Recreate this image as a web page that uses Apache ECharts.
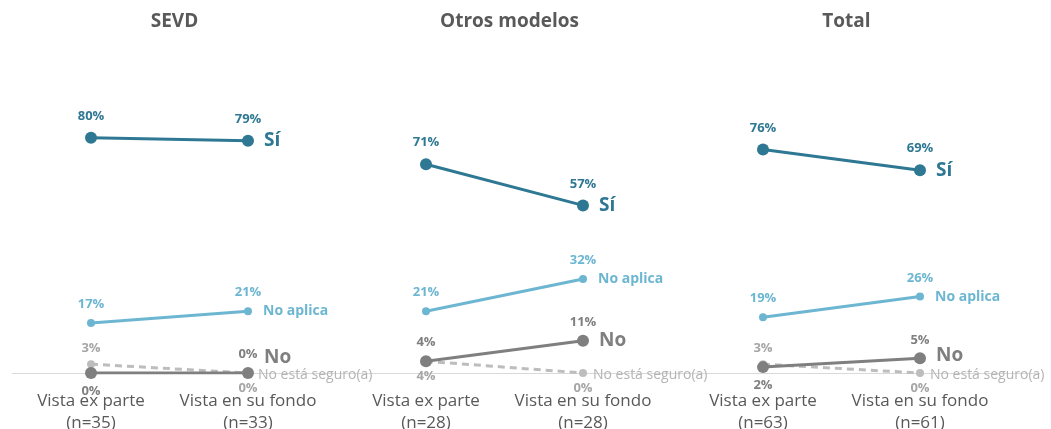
<!DOCTYPE html>
<html><head><meta charset="utf-8">
<script src="https://cdn.jsdelivr.net/npm/echarts@6/dist/echarts.min.js"></script>
<style>html,body{margin:0;padding:0;background:#fff}#c{width:1051px;height:429px}</style>
</head><body><div id="c"></div>
<script>
// ---- Data ----
const panelTitles = ['SEVD', 'Otros modelos', 'Total'];
const categories = [
  ['Vista ex parte\n(n=35)', 'Vista en su fondo\n(n=33)'],
  ['Vista ex parte\n(n=28)', 'Vista en su fondo\n(n=28)'],
  ['Vista ex parte\n(n=63)', 'Vista en su fondo\n(n=61)']
];
const seriesNames = ['Sí', 'No aplica', 'No', 'No está seguro(a)'];
const si        = [[80, 79], [71, 57], [76, 69]];
const noAplica  = [[17, 21], [21, 32], [19, 26]];
const no        = [[0, 0],   [4, 11],  [2, 5]];
const noSeguro  = [[3, 0],   [4, 0],   [3, 0]];

// ---- Layout / style ----
const FONT = '"Open Sans", "Noto Sans", sans-serif';
const gridLefts = [12.5, 347.5, 684.5];
const gridW = 314;
const colors = { si: '#2E7893', ap: '#6CB6D2', no: '#7F7F7F', ns: '#BDBDBD' };

// label placement per panel for the low series
const noPos = [['bottom', 'top'], ['top', 'top'], ['bottom', 'top']];
const nsPos = [['top', 'bottom'], ['bottom', 'bottom'], ['top', 'bottom']];
const noEndOffset = [[0, -15], [0, 0], [0, -3]];

const grid = [], xAxis = [], yAxis = [], title = [], series = [];
for (let p = 0; p < 3; p++) {
  grid.push({ left: gridLefts[p], width: gridW, top: 79, bottom: 56, outerBoundsMode: 'none', containLabel: false });
  xAxis.push({
    type: 'category', gridIndex: p, data: categories[p], boundaryGap: true,
    axisLine: { show: false }, axisTick: { show: false },
    axisLabel: { color: '#595959', fontSize: 17, fontFamily: FONT, lineHeight: 22, margin: 17, interval: 0 }
  });
  yAxis.push({ type: 'value', gridIndex: p, min: 0, max: 100, show: false, splitLine: { show: false } });
  title.push({
    text: panelTitles[p], left: gridLefts[p] + gridW / 2, top: 7, textAlign: 'center',
    textStyle: { color: '#595959', fontSize: 19, fontWeight: 'bold', fontFamily: FONT }
  });

  const mk = (name, vals, color, opts) => {
    const data = vals.map((v, i) => {
      const d = { value: v };
      if (opts.pos) d.label = { position: opts.pos[i] };
      return d;
    });
    return {
      name, type: 'line', xAxisIndex: p, yAxisIndex: p, data,
      symbol: 'circle', symbolSize: opts.sym, z: opts.z,
      lineStyle: { color, width: opts.w, type: opts.dash ? [7, 5] : 'solid' },
      itemStyle: { color },
      label: {
        show: true, position: 'top', distance: opts.dist || 8, formatter: '{c}%',
        color: opts.labelColor || color, fontSize: 13, fontWeight: 'bold', fontFamily: FONT
      },
      endLabel: {
        show: true, formatter: name, color: opts.endColor || color,
        fontSize: opts.endSize, fontWeight: opts.endBold ? 'bold' : 'normal', fontFamily: FONT,
        distance: opts.endDist || 10, offset: opts.endOffset || [0, 0]
      },
      emphasis: { disabled: true }, animation: false
    };
  };
  series.push(mk(seriesNames[3], noSeguro[p], colors.ns, { sym: 8, w: 3, dash: true, z: 2, pos: nsPos[p], labelColor: '#A6A6A6', endColor: '#B4B4B4', endSize: 14, endBold: false, endDist: 10, dist: 5, endOffset: [0, 2] }));
  series.push(mk(seriesNames[2], no[p], colors.no, { sym: 12, w: 3, z: 3, pos: noPos[p], endSize: 19, endBold: true, endOffset: noEndOffset[p], endDist: 16, dist: 6 }));
  series.push(mk(seriesNames[1], noAplica[p], colors.ap, { sym: 8, w: 3, z: 4, endSize: 14, endBold: true, endDist: 15, dist: 8 }));
  series.push(mk(seriesNames[0], si[p], colors.si, { sym: 12, w: 3, z: 5, endSize: 19, endBold: true, endDist: 16, dist: 9 }));
}

const chart = echarts.init(document.getElementById('c'), null, { renderer: 'canvas' });
chart.setOption({
  animation: false,
  title, grid, xAxis, yAxis, series,
  graphic: [{
    type: 'line', z: 0, silent: true,
    shape: { x1: 12, y1: 373.5, x2: 1040, y2: 373.5 },
    style: { stroke: '#D9D9D9', lineWidth: 1 }
  }]
});
</script></body></html>
